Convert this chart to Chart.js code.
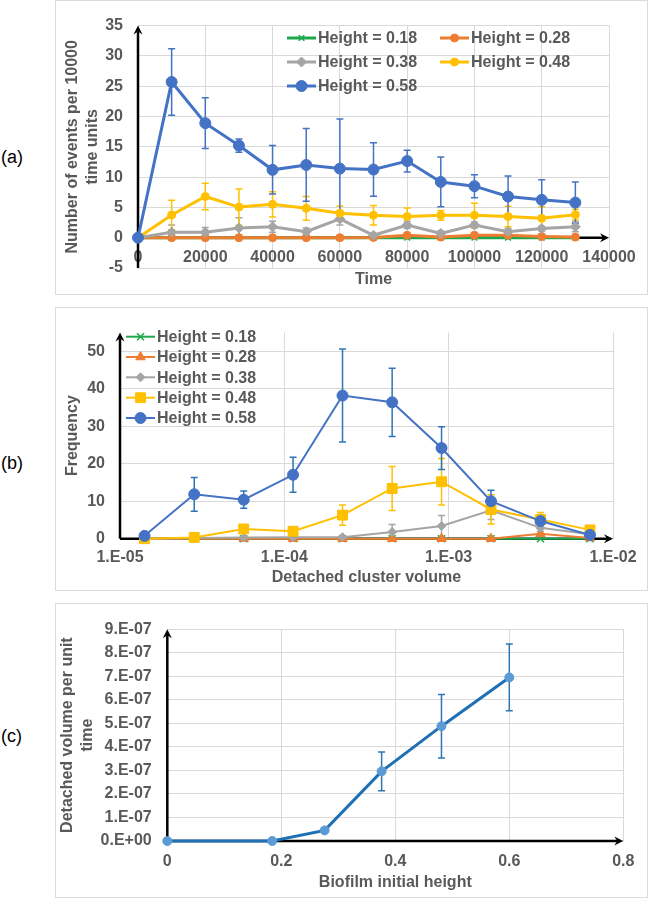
<!DOCTYPE html>
<html>
<head>
<meta charset="utf-8">
<script src="https://cdn.jsdelivr.net/npm/chart.js@4.4.1/dist/chart.umd.min.js"></script>
<style>
  html, body { margin: 0; padding: 0; background: #fff; }
  body { width: 650px; height: 899px; position: relative; overflow: hidden;
         font-family: "Liberation Sans", Arial, sans-serif; }
  .panel { position: absolute; left: 55px; width: 593px; border: 1px solid #dcdcdc; box-sizing: border-box; }
  .panel canvas { position: absolute; left: 0; top: 0; }
  .tag { position: absolute; left: 1px; font-size: 18px; line-height: 20px; color: #000; }
</style>
</head>
<body>
<div class="tag" style="top:147px">(a)</div>
<div class="tag" style="top:453px">(b)</div>
<div class="tag" style="top:726px">(c)</div>

<div class="panel" style="top:0;height:295px"><canvas id="chartA" width="591" height="293"></canvas></div>
<div class="panel" style="top:307px;height:284px"><canvas id="chartB" width="591" height="282"></canvas></div>
<div class="panel" style="top:603px;height:295px"><canvas id="chartC" width="591" height="293"></canvas></div>

<script>
// ── Datos panel (a): eventos por 10000 unidades de tiempo ─────
const tiempos    = [0, 10000, 20000, 30000, 40000, 50000, 60000, 70000, 80000, 90000, 100000, 110000, 120000, 130000];
const eventos018 = [0, 0, 0, 0, 0, 0, 0, 0, 0, 0, 0, 0, 0, 0];
const eventos028 = [0, 0, 0, 0, 0, 0, 0, 0.05, 0.4, 0.1, 0.4, 0.4, 0.2, 0.1];
const eventos038 = [0, 0.9, 0.9, 1.6, 1.8, 1.0, 3.1, 0.4, 2.1, 0.7, 2.1, 1.0, 1.5, 1.8];
const error038   = [0, 1.2, 0.8, 1.7, 0.9, 0.6, 1.0, 0.3, 0.6, 0.4, 0.5, 0.5, 0.4, 0.8];
const eventos048 = [0, 3.75, 6.8, 5.05, 5.5, 4.85, 4.05, 3.7, 3.5, 3.7, 3.7, 3.5, 3.2, 3.8];
const error048   = [0, 2.45, 2.2, 3.0, 2.1, 1.95, 1.2, 1.6, 1.4, 0.8, 2.0, 1.7, 1.9, 0.9];
const eventos058 = [0, 25.7, 18.9, 15.2, 11.2, 12.0, 11.4, 11.25, 12.65, 9.2, 8.5, 6.8, 6.25, 5.8];
const error058   = [0, 5.5, 4.2, 1.1, 4.0, 6.0, 8.2, 4.4, 1.8, 4.1, 1.9, 3.4, 3.3, 3.4];

// ── Datos panel (b): frecuencia vs volumen del cluster ────────
const volumenes  = [1.41e-5, 2.83e-5, 5.66e-5, 1.13e-4, 2.26e-4, 4.53e-4, 9.05e-4, 1.81e-3, 3.62e-3, 7.24e-3];
const frec018    = [0, 0, 0, 0, 0, 0, 0, 0, 0, 0];
const frec028    = [0, 0, 0, 0, 0, 0, 0, 0, 1.3, 0.2];
const frec038    = [0, 0.2, 0.3, 0.4, 0.4, 1.8, 3.4, 7.6, 2.9, 1.2];
const errFrec038 = [0, 0, 0, 0, 0.3, 2.0, 2.8, 2.5, 1.0, 0.5];
const frec048    = [0, 0.35, 2.6, 2.0, 6.3, 13.4, 15.2, 7.8, 5.1, 2.35];
const errFrec048 = [0, 0, 0, 0, 2.7, 5.9, 6.2, 3.9, 1.9, 0.6];
const frec058    = [0.76, 11.85, 10.4, 17.06, 38.2, 36.4, 24.2, 10.0, 4.7, 1.0];
const errFrec058 = [0, 4.5, 2.3, 4.65, 12.4, 9.1, 5.7, 2.9, 1.7, 0.3];
const ticksLog     = [1e-5, 1e-4, 1e-3, 1e-2];
const etiquetasLog = ['1.E-05', '1.E-04', '1.E-03', '1.E-02'];

// ── Datos panel (c): volumen desprendido vs altura inicial ────
const alturas        = [0, 0.184, 0.276, 0.376, 0.481, 0.6];
const volDesprendido = [0, 0, 0.45e-7, 2.96e-7, 4.88e-7, 6.95e-7];
const errVolumen     = [0, 0, 0, 0.82e-7, 1.35e-7, 1.42e-7];
const etiquetasVol   = ['0.E+00', '1.E-07', '2.E-07', '3.E-07', '4.E-07', '5.E-07', '6.E-07', '7.E-07', '8.E-07', '9.E-07'];

// ── Estilo común ──────────────────────────────────────────────
const FAMILIA = '"Liberation Sans", Arial, sans-serif';
const GRIS  = '#595959';
const GRID  = '#d9d9d9';
const AZUL = '#4472C4', NARANJA = '#ED7D31', PLATA = '#A5A5A5', AMARILLO = '#FFC000', VERDE = '#1FA84B';

Chart.defaults.font.family = FAMILIA;
const fuente = { family: FAMILIA, size: 16, weight: 'bold', lineHeight: 1.2 };
const fuenteTitulo = { family: FAMILIA, size: 16, weight: 'bold', lineHeight: 1.25 };

function serie(label, xs, ys, errores, o) {
  return {
    label,
    data: xs.map((x, i) => ({ x, y: ys[i] })),
    errores,
    colorError: o.colorError || o.color,
    borderColor: o.color,
    backgroundColor: o.color,
    borderWidth: o.ancho,
    pointStyle: o.estilo,
    pointRadius: o.radio,
    pointBackgroundColor: o.relleno || o.color,
    pointBorderColor: o.relleno || o.color,
    pointBorderWidth: o.estilo === 'crossRot' ? 1.5 : 1,
    order: o.orden,
    tension: 0,
    clip: false
  };
}

// ── Plugin: ejes negros con flecha ────────────────────────────
function punta(ctx, x, y, dir) {
  ctx.beginPath();
  if (dir === 'up') {
    ctx.moveTo(x, y); ctx.lineTo(x - 4.5, y + 9); ctx.lineTo(x, y + 6); ctx.lineTo(x + 4.5, y + 9);
  } else {
    ctx.moveTo(x, y); ctx.lineTo(x - 9, y - 4.5); ctx.lineTo(x - 6, y); ctx.lineTo(x - 9, y + 4.5);
  }
  ctx.closePath();
  ctx.fill();
}

const pluginFlechas = {
  id: 'flechas',
  beforeDatasetsDraw(chart, args, opts) {
    const { x, y } = chart.scales;
    const ctx = chart.ctx;
    const px = x.getPixelForValue(opts.xCruce);
    const py = y.getPixelForValue(opts.yCruce);
    ctx.save();
    ctx.strokeStyle = '#000';
    ctx.fillStyle = '#000';
    ctx.lineWidth = 2.5;
    ctx.beginPath(); ctx.moveTo(px, y.bottom); ctx.lineTo(px, y.top + 6); ctx.stroke();
    punta(ctx, px, y.top, 'up');
    ctx.beginPath(); ctx.moveTo(px, py); ctx.lineTo(x.right - 6, py); ctx.stroke();
    punta(ctx, x.right, py, 'right');
    ctx.restore();
  }
};

// ── Plugin: barras de error verticales ────────────────────────
const pluginErrores = {
  id: 'errores',
  beforeDatasetsDraw(chart) {
    const ctx = chart.ctx, y = chart.scales.y;
    chart.data.datasets.forEach((ds, i) => {
      if (!ds.errores) return;
      const meta = chart.getDatasetMeta(i);
      ctx.save();
      ctx.strokeStyle = ds.colorError;
      ctx.lineWidth = 1.5;
      meta.data.forEach((pt, j) => {
        const e = ds.errores[j];
        if (!e) return;
        const v = ds.data[j].y;
        const y1 = y.getPixelForValue(v + e), y2 = y.getPixelForValue(v - e);
        ctx.beginPath();
        ctx.moveTo(pt.x, y1); ctx.lineTo(pt.x, y2);
        ctx.moveTo(pt.x - 3.5, y1); ctx.lineTo(pt.x + 3.5, y1);
        ctx.moveTo(pt.x - 3.5, y2); ctx.lineTo(pt.x + 3.5, y2);
        ctx.stroke();
      });
      ctx.restore();
    });
  }
};

// ── Plugin: leyenda dentro del área del gráfico ───────────────
const pluginLeyenda = {
  id: 'leyenda',
  afterDatasetsDraw(chart, args, opts) {
    if (!opts.pos) return;
    const ctx = chart.ctx;
    chart.data.datasets.forEach((ds, i) => {
      const [lx, ly] = opts.pos[i];
      ctx.save();
      ctx.strokeStyle = ds.borderColor;
      ctx.lineWidth = ds.borderWidth;
      ctx.beginPath(); ctx.moveTo(lx, ly); ctx.lineTo(lx + 29, ly); ctx.stroke();
      ctx.fillStyle = ds.pointBackgroundColor;
      ctx.strokeStyle = ds.pointBorderColor;
      ctx.lineWidth = ds.pointBorderWidth;
      if (Chart.helpers && Chart.helpers.drawPoint) {
        Chart.helpers.drawPoint(ctx, { pointStyle: ds.pointStyle, radius: ds.pointRadius, rotation: 0, borderWidth: ds.pointBorderWidth }, lx + 14.5, ly);
      } else {
        ctx.beginPath(); ctx.arc(lx + 14.5, ly, ds.pointRadius, 0, Math.PI * 2); ctx.fill();
      }
      ctx.fillStyle = GRIS;
      ctx.font = 'bold 16px ' + FAMILIA;
      ctx.textBaseline = 'middle';
      ctx.fillText(ds.label, lx + 31, ly + 1);
      ctx.restore();
    });
  }
};

const plugins = [pluginFlechas, pluginErrores, pluginLeyenda];

function escala(o) {
  return {
    type: o.tipo || 'linear',
    min: o.min, max: o.max,
    afterFit: o.ancho != null ? (s => { s.width = o.ancho; }) : (s => { s.height = o.alto; }),
    afterBuildTicks: o.valores ? (s => { s.ticks = o.valores.map(v => ({ value: v })); }) : undefined,
    grid: { color: GRID, lineWidth: 1, drawTicks: false },
    border: { display: false },
    ticks: {
      stepSize: o.paso, padding: o.relleno, color: GRIS, font: fuente,
      mirror: !!o.espejo,
      maxRotation: 0, autoSkip: false, includeBounds: false,
      callback: o.formato
    },
    title: { display: true, text: o.titulo, color: GRIS, font: fuenteTitulo, padding: o.tituloPad || 0 }
  };
}

// ── Panel (a) ─────────────────────────────────────────────────
new Chart(document.getElementById('chartA'), {
  type: 'line',
  data: {
    datasets: [
      serie('Height = 0.18', tiempos, eventos018, null,       { color: VERDE,    estilo: 'crossRot', radio: 4,   ancho: 3, orden: 5 }),
      serie('Height = 0.28', tiempos, eventos028, null,       { color: NARANJA,  estilo: 'circle',   radio: 4,   ancho: 3, orden: 4 }),
      serie('Height = 0.38', tiempos, eventos038, error038,   { color: PLATA,    estilo: 'rectRot',  radio: 5,   ancho: 3, orden: 3 }),
      serie('Height = 0.48', tiempos, eventos048, error048,   { color: AMARILLO, estilo: 'circle',   radio: 4,   ancho: 3, orden: 2 }),
      serie('Height = 0.58', tiempos, eventos058, error058,   { color: AZUL,     estilo: 'circle',   radio: 5.5, ancho: 3, orden: 1 })
    ]
  },
  options: {
    responsive: false, animation: false,
    layout: { padding: { left: 2, right: 38, top: 11, bottom: 4 } },
    plugins: {
      legend: { display: false }, tooltip: { enabled: false },
      flechas: { xCruce: 0, yCruce: 0 },
      leyenda: { pos: [[231, 37], [384, 37], [231, 61], [384, 61], [231, 85]] }
    },
    scales: {
      // etiquetas del eje X junto a la línea y = 0 (como en Excel)
      x: escala({ min: 0, max: 140000, paso: 20000, alto: 22, relleno: 0.5, espejo: true,
                  titulo: 'Time', formato: v => String(v) }),
      y: escala({ min: -5, max: 35, paso: 5, ancho: 80, relleno: 15,
                  titulo: ['Number of events per 10000', 'time units'], tituloPad: { top: 5, bottom: 0 } })
    }
  },
  plugins
});

// ── Panel (b) ─────────────────────────────────────────────────
new Chart(document.getElementById('chartB'), {
  type: 'line',
  data: {
    datasets: [
      serie('Height = 0.18', volumenes, frec018, null,       { color: VERDE,    estilo: 'crossRot', radio: 5,   ancho: 2, orden: 5 }),
      serie('Height = 0.28', volumenes, frec028, null,       { color: NARANJA,  estilo: 'triangle', radio: 5.5, ancho: 2, orden: 4 }),
      serie('Height = 0.38', volumenes, frec038, errFrec038, { color: PLATA,    estilo: 'rectRot',  radio: 4.5, ancho: 2, orden: 3 }),
      serie('Height = 0.48', volumenes, frec048, errFrec048, { color: AMARILLO, estilo: 'rect',     radio: 7,   ancho: 2, orden: 2 }),
      serie('Height = 0.58', volumenes, frec058, errFrec058, { color: AZUL,     estilo: 'circle',   radio: 5.5, ancho: 2, orden: 1, colorError: '#2E75B6' })
    ]
  },
  options: {
    responsive: false, animation: false,
    layout: { padding: { left: 2, right: 34, top: 12.5, bottom: 2 } },
    plugins: {
      legend: { display: false }, tooltip: { enabled: false },
      flechas: { xCruce: 1e-5, yCruce: 0 },
      leyenda: { pos: [[70, 28.7], [70, 49], [70, 69.3], [70, 89.7], [70, 110]] }
    },
    scales: {
      x: escala({ tipo: 'logarithmic', min: 1e-5, max: 1e-2, valores: ticksLog, alto: 49.3, relleno: 9.7,
                  titulo: 'Detached cluster volume', formato: (v, i) => etiquetasLog[i] }),
      y: escala({ min: 0, max: 55, paso: 10, ancho: 62, relleno: 15,
                  titulo: 'Frequency', tituloPad: { top: 5, bottom: 0 } })
    }
  },
  plugins
});

// ── Panel (c) ─────────────────────────────────────────────────
new Chart(document.getElementById('chartC'), {
  type: 'line',
  data: {
    datasets: [
      serie('Detached volume', alturas, volDesprendido, errVolumen,
            { color: '#1F6FB5', relleno: '#5B9BD5', colorError: '#2E75B6', estilo: 'circle', radio: 4.5, ancho: 3, orden: 1 })
    ]
  },
  options: {
    responsive: false, animation: false,
    layout: { padding: { left: 2, right: 23.7, top: 12, bottom: 4 } },
    plugins: {
      legend: { display: false }, tooltip: { enabled: false },
      flechas: { xCruce: 0, yCruce: 0 },
      leyenda: {}
    },
    scales: {
      x: escala({ min: 0, max: 0.8, paso: 0.2, alto: 52, relleno: 11.4, titulo: 'Biofilm initial height' }),
      y: escala({ min: 0, max: 9e-7, paso: 1e-7, ancho: 109.3, relleno: 15.6,
                  titulo: ['Detached volume per unit', 'time'], tituloPad: { top: 0, bottom: 0 },
                  formato: (v, i) => etiquetasVol[i] })
    }
  },
  plugins
});
</script>
</body>
</html>
